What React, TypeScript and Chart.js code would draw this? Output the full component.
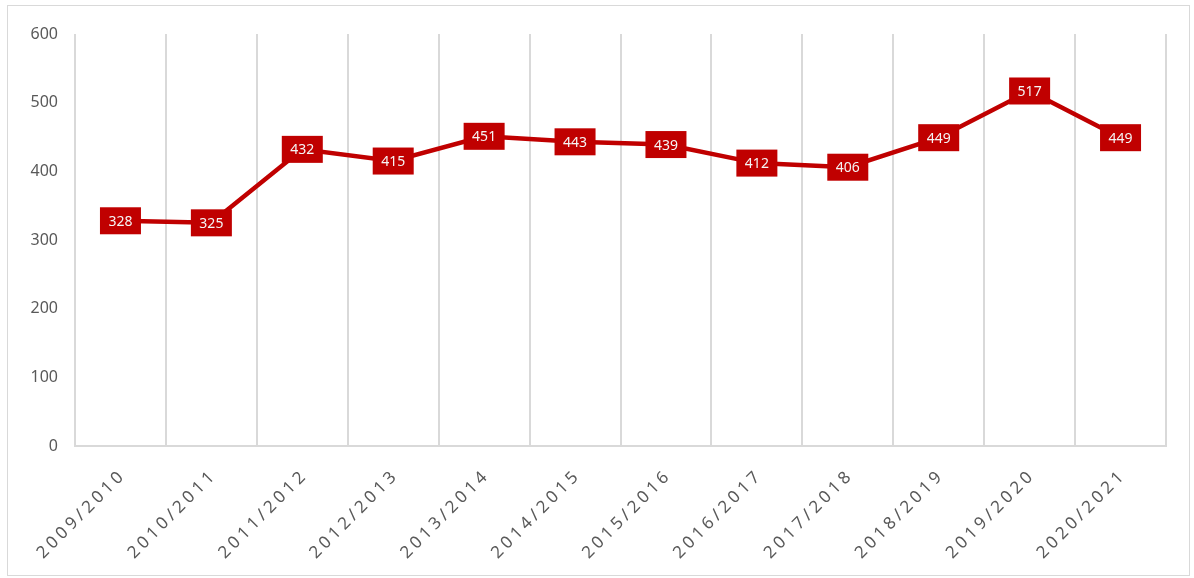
import React, { useEffect, useRef } from "react";
import { Chart, registerables } from "chart.js";

Chart.register(...registerables);

const categories = [
  "2009/2010", "2010/2011", "2011/2012", "2012/2013", "2013/2014", "2014/2015",
  "2015/2016", "2016/2017", "2017/2018", "2018/2019", "2019/2020", "2020/2021",
];
const values = [328, 325, 432, 415, 451, 443, 439, 412, 406, 449, 517, 449];
const yMin = 0;
const yMax = 600;
const yStep = 100;

const RED = "#C00000";
const GRID = "#d9d9d9";
const TEXT = "#595959";
const FONT = "'Noto Sans', 'Open Sans', sans-serif";

const labelBoxes = {
  id: "labelBoxes",
  afterDatasetsDraw(chart: any) {
    const ctx = chart.ctx;
    const meta = chart.getDatasetMeta(0);
    ctx.save();
    meta.data.forEach((pt: any, i: number) => {
      const w = 41;
      const h = 27;
      ctx.fillStyle = RED;
      ctx.fillRect(pt.x - w / 2, pt.y - h / 2, w, h);
      ctx.fillStyle = "#f5f5f5";
      ctx.font = `14px ${FONT}`;
      ctx.textAlign = "center";
      ctx.textBaseline = "middle";
      ctx.fillText(String(values[i]), pt.x, pt.y + 1);
    });
    ctx.restore();
    // letter spacing for x tick labels, which are drawn after datasets (z: 1)
    ctx.letterSpacing = "3.8px";
  },
  afterDraw(chart: any) {
    chart.ctx.letterSpacing = "0px";
  },
};

export default function App() {
  const ref = useRef<HTMLCanvasElement>(null);
  useEffect(() => {
    if (!ref.current) return;
    const chart = new Chart(ref.current, {
      type: "line",
      data: {
        labels: categories,
        datasets: [
          {
            data: values,
            borderColor: RED,
            backgroundColor: RED,
            borderWidth: 4.5,
            pointRadius: 0,
            tension: 0,
          },
        ],
      },
      options: {
        animation: false,
        responsive: false,
        devicePixelRatio: 1,
        layout: { padding: { top: 34, right: 28, left: 0, bottom: 0 } },
        plugins: { legend: { display: false }, tooltip: { enabled: false } },
        scales: {
          x: {
            offset: true,
            grid: { display: true, offset: true, color: GRID, lineWidth: 2, drawTicks: false },
            border: { display: true, color: GRID, width: 2 },
            ticks: {
              z: 1,
              color: TEXT,
              font: { family: FONT, size: 17 },
              maxRotation: 45,
              minRotation: 45,
              padding: 19,
              labelOffset: 3,
              autoSkip: false,
            },
            afterFit(scale: any) {
              scale.height = 132;
              scale.paddingLeft = 0;
              scale.paddingRight = 0;
            },
          },
          y: {
            min: yMin,
            max: yMax,
            grid: { display: false, drawTicks: false },
            border: { display: false },
            ticks: {
              stepSize: yStep,
              color: TEXT,
              font: { family: FONT, size: 16 },
              padding: 17,
            },
            afterFit(scale: any) {
              scale.width = 75;
            },
          },
        },
      },
      plugins: [labelBoxes],
    });
    return () => chart.destroy();
  }, []);

  return (
    <div style={{ position: "fixed", left: 0, top: 0, width: 1194, height: 578, background: "#fff" }}>
      <div
        style={{
          position: "absolute",
          left: 7,
          top: 5,
          width: 1183,
          height: 571,
          border: "1px solid #d9d9d9",
          boxSizing: "border-box",
        }}
      />
      <canvas ref={ref} width={1194} height={578} style={{ position: "absolute", left: 0, top: 0 }} />
    </div>
  );
}
